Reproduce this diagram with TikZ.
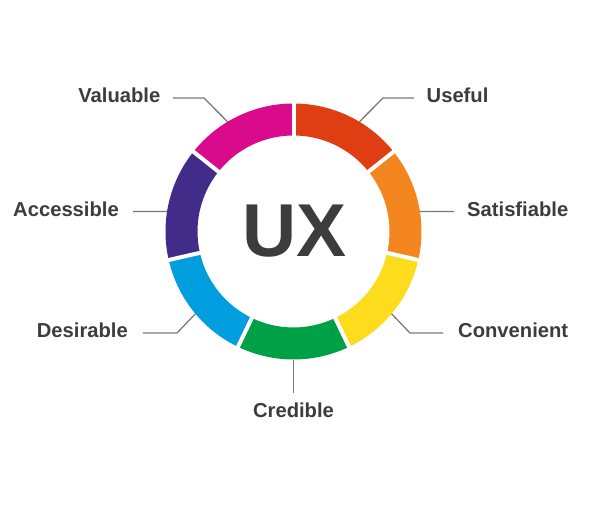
\documentclass[tikz,border=0pt]{standalone}
\usepackage{fontspec}
\setmainfont{Liberation Sans}
\usetikzlibrary{positioning}
\definecolor{uxred}{HTML}{DF3E12}
\definecolor{uxorange}{HTML}{F4861F}
\definecolor{uxyellow}{HTML}{FCDC1C}
\definecolor{uxgreen}{HTML}{00A046}
\definecolor{uxblue}{HTML}{009EDF}
\definecolor{uxpurple}{HTML}{412C8A}
\definecolor{uxmagenta}{HTML}{DA0A8C}
\definecolor{uxtext}{HTML}{3C3C3C}
\definecolor{uxline}{HTML}{7A7A7A}

\begin{document}
\begin{tikzpicture}[
    x=1pt, y=1pt,
    lbl/.style={font=\fontsize{20.2}{22}\selectfont\bfseries, text=uxtext, inner sep=0pt, yshift=2.5pt},
    leader/.style={draw=uxline, line width=1.3pt},
    ringgap/.style={draw=white, line width=4pt},
]
\useasboundingbox (-293.5,-276.5) rectangle (305.5,231.5);

% ring segments
\foreach \a/\col in {90/uxmagenta, 141.43/uxpurple, 192.86/uxblue, 244.29/uxgreen, 295.71/uxyellow, 347.14/uxorange, 38.57/uxred} {
  \fill[\col] (\a:96pt) arc[start angle=\a, delta angle=51.43, radius=96pt]
    -- ({\a+51.43}:128pt) arc[start angle={\a+51.43}, delta angle=-51.43, radius=128pt] -- cycle;
}
\foreach \k in {0,...,6}
  \draw[ringgap] ({90+\k*51.4286}:93pt) -- ({90+\k*51.4286}:131pt);

\node[font=\fontsize{75}{75}\selectfont\bfseries, text=uxtext, inner sep=0pt] (ux) at (1,0) {UX};

% leader points on the ring
\coordinate (valRing) at (121:128pt);
\coordinate (useRing) at (59:128pt);
\coordinate (accRing) at (171:128pt);
\coordinate (satRing) at (9:128pt);
\coordinate (desRing) at (220:128pt);
\coordinate (conRing) at (320:128pt);
\coordinate (creRing) at (270:128pt);

\draw[leader] (valRing) -- (-89.5,133.5) coordinate (valElbow) -- (-120.5,133.5) coordinate (valEnd);
\draw[leader] (useRing) -- (89.5,133.5) coordinate (useElbow) -- (120.5,133.5) coordinate (useEnd);
\draw[leader] (accRing) -- (-160.5,20) coordinate (accEnd);
\draw[leader] (satRing) -- (160.5,20) coordinate (satEnd);
\draw[leader] (desRing) -- (-116.5,-101.5) coordinate (desElbow) -- (-150.5,-101.5) coordinate (desEnd);
\draw[leader] (conRing) -- (116.5,-101.5) coordinate (conElbow) -- (149.5,-101.5) coordinate (conEnd);
\draw[leader] (creRing) -- (0,-161.5) coordinate (creEnd);

\node[lbl, left=12.5pt of valEnd]  (valuable)    {Valuable};
\node[lbl, right=12.5pt of useEnd] (useful)      {Useful};
\node[lbl, left=14pt of accEnd]    (accessible)  {Accessible};
\node[lbl, right=13pt of satEnd]   (satisfiable) {Satisfiable};
\node[lbl, left=15pt of desEnd]    (desirable)   {Desirable};
\node[lbl, right=15pt of conEnd]   (convenient)  {Convenient};
\node[lbl, below=12.5pt of creEnd] (credible)    {Credible};

\end{tikzpicture}
\end{document}
